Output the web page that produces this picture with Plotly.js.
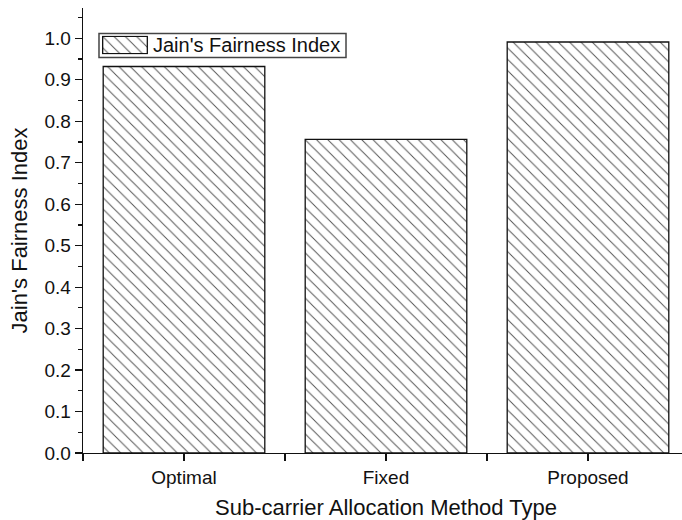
<!DOCTYPE html>
<html>
<head>
<meta charset="utf-8">
<script src="https://cdn.plot.ly/plotly-3.0.1.min.js"></script>
<style>
html, body { margin: 0; padding: 0; overflow: hidden; background: #fff; }
#chart { width: 700px; height: 520px; }
</style>
</head>
<body>
<div id="chart"></div>
<script>
const categories = ["Optimal", "Fixed", "Proposed"];
const fairness = [0.932, 0.756, 0.991];
const seriesName = "Jain's Fairness Index";
const yTickVals = [0, 0.1, 0.2, 0.3, 0.4, 0.5, 0.6, 0.7, 0.8, 0.9, 1.0];
const yTickText = ["0.0", "0.1", "0.2", "0.3", "0.4", "0.5", "0.6", "0.7", "0.8", "0.9", "1.0"];

const xIdx = categories.map((c, i) => i);
const FONT = "Arial, 'Liberation Sans', sans-serif";
const barMarker = {
  color: "white",
  line: { color: "#111", width: 1.3 },
  pattern: { shape: "\\", size: 8, solidity: 0.12, fgcolor: "#555", bgcolor: "white" }
};

const trace = {
  type: "bar",
  x: xIdx,
  y: fairness,
  name: seriesName,
  width: 0.8,
  showlegend: false,
  marker: barMarker,
  hoverinfo: "skip"
};

// legend swatch drawn by the library as a single full-height bar in a tiny inset subplot
const swatch = {
  type: "bar",
  x: [0],
  y: [1],
  width: 1,
  xaxis: "x3",
  yaxis: "y3",
  showlegend: false,
  marker: barMarker,
  hoverinfo: "skip"
};

const layout = {
  width: 700,
  height: 520,
  margin: { l: 83, r: 11, t: 7.5, b: 67 },
  paper_bgcolor: "white",
  plot_bgcolor: "white",
  font: { family: FONT, size: 19, color: "#111" },
  showlegend: false,
  xaxis: {
    range: [-0.5, 2.5],
    tickvals: xIdx,
    ticktext: categories,
    ticks: "outside",
    ticklen: 7,
    tickwidth: 1.2,
    tickcolor: "#111",
    minor: { dtick: 0.5, tick0: 0.5, ticks: "outside", ticklen: 7, tickwidth: 1.2, tickcolor: "#111" },
    showline: true,
    linecolor: "#111",
    linewidth: 1.3,
    showgrid: false,
    zeroline: false,
    tickfont: { family: FONT, size: 19, color: "#111" },
    title: { text: "Sub-carrier Allocation Method Type", font: { family: FONT, size: 22, color: "#111" }, standoff: 12 }
  },
  xaxis2: {
    overlaying: "x",
    side: "top",
    range: [-0.5, 2.5],
    tickvals: xIdx,
    ticktext: ["", "", ""],
    ticks: "inside",
    ticklen: 8,
    tickwidth: 1.2,
    tickcolor: "#111",
    showline: true,
    linecolor: "#111",
    linewidth: 1.3,
    showgrid: false,
    zeroline: false,
    showticklabels: false
  },
  yaxis: {
    range: [0, 1.073],
    tickvals: yTickVals,
    ticktext: yTickText,
    ticks: "outside",
    ticklen: 7,
    tickwidth: 1.2,
    tickcolor: "#111",
    minor: { dtick: 0.05, tick0: 0, ticks: "outside", ticklen: 4, tickwidth: 1.2, tickcolor: "#111" },
    showline: true,
    linecolor: "#111",
    linewidth: 1.3,
    showgrid: false,
    zeroline: false,
    tickfont: { family: FONT, size: 19, color: "#111" },
    title: { text: "Jain's Fairness Index", font: { family: FONT, size: 22, color: "#111" }, standoff: 10 }
  },
  yaxis2: {
    overlaying: "y",
    side: "right",
    range: [0, 1.073],
    tickvals: yTickVals,
    ticks: "inside",
    ticklen: 7,
    tickwidth: 1.2,
    tickcolor: "#111",
    showline: true,
    linecolor: "#111",
    linewidth: 1.3,
    showgrid: false,
    zeroline: false,
    showticklabels: false
  },
  xaxis3: {
    domain: [0.031, 0.1076], anchor: "y3",
    range: [-0.52, 0.52], visible: false, fixedrange: true
  },
  yaxis3: {
    domain: [0.8955, 0.938], anchor: "x3",
    range: [-0.05, 1.05], visible: false, fixedrange: true
  },
  shapes: [
    {
      type: "rect", xref: "paper", yref: "paper", layer: "above",
      x0: 0.0264, x1: 0.434, y0: 0.8889, y1: 0.9428,
      line: { color: "#444", width: 1.5 }, fillcolor: "rgba(0,0,0,0)"
    }
  ],
  annotations: [
    {
      xref: "paper", yref: "paper", x: 0.1125, y: 0.9158,
      xanchor: "left", yanchor: "middle", showarrow: false,
      text: seriesName,
      font: { family: FONT, size: 20, color: "#111" }
    }
  ]
};

Plotly.newPlot("chart", [trace, swatch], layout, { displayModeBar: false, staticPlot: true });
</script>
</body>
</html>
